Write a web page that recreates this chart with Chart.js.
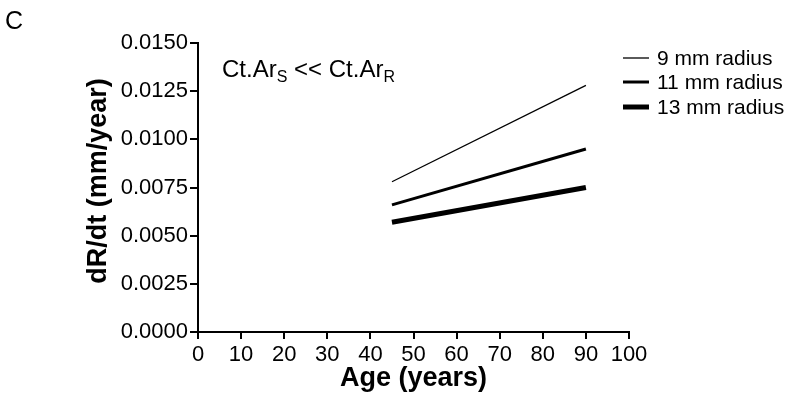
<!DOCTYPE html>
<html lang="en">

<head>
    <meta charset="UTF-8">
    <title>dR/dt vs Age</title>
    <style>
        body {
            margin: 0;
            background-color: #fff;
        }

        #wrap {
            width: 800px;
            height: 400px;
        }
    </style>
</head>

<body>
    <div id="wrap"><canvas id="rateChart"></canvas></div>

    <script src="https://cdn.jsdelivr.net/npm/chart.js"></script>
    <script>
        // values
        const ages = [45, 90];
        const rate9 = [0.0078, 0.0128];
        const rate11 = [0.0066, 0.0095];
        const rate13 = [0.0057, 0.0075];
        const seriesNames = ['9 mm radius', '11 mm radius', '13 mm radius'];
        const lineWidths = [1.3, 3, 5];

        const FONT = "'Liberation Sans', Arial, sans-serif";

        function toPoints(ys) {
            return ages.map((a, i) => ({ x: a, y: ys[i] }));
        }

        // panel letter, y title, annotation and the legend are drawn by hand
        const extras = {
            id: 'extras',
            afterDraw(chart) {
                const ctx = chart.ctx;
                ctx.save();
                ctx.fillStyle = '#000';
                ctx.textBaseline = 'alphabetic';

                ctx.font = '25px ' + FONT;
                ctx.fillText('C', 5, 29);

                // y axis title, sits a bit above the plot centre in the original
                ctx.save();
                ctx.translate(99, 181);
                ctx.rotate(-Math.PI / 2);
                ctx.textAlign = 'center';
                ctx.textBaseline = 'middle';
                ctx.font = 'bold 27px ' + FONT;
                ctx.fillText('dR/dt (mm/year)', 0, 0);
                ctx.restore();

                // Ct.Ar_S << Ct.Ar_R
                let x = 222;
                const base = 77;
                const parts = [['Ct.Ar', 0], ['S', 1], [' << Ct.Ar', 0], ['R', 1]];
                parts.forEach(([t, sub]) => {
                    ctx.font = (sub ? '16px ' : '24px ') + FONT;
                    ctx.fillText(t, x, sub ? base + 5 : base);
                    x += ctx.measureText(t).width;
                });

                // legend
                const rows = [58, 82, 107];
                ctx.font = '21px ' + FONT;
                ctx.textBaseline = 'middle';
                chart.data.datasets.forEach((ds, i) => {
                    ctx.strokeStyle = '#000';
                    ctx.lineWidth = ds.borderWidth;
                    ctx.beginPath();
                    ctx.moveTo(623, rows[i]);
                    ctx.lineTo(649, rows[i]);
                    ctx.stroke();
                    ctx.fillText(ds.label, 657, rows[i] + 1);
                });
                ctx.restore();
            }
        };

        const ctx = document.getElementById('rateChart').getContext('2d');
        new Chart(ctx, {
            type: 'line',
            data: {
                datasets: [rate9, rate11, rate13].map((ys, i) => ({
                    label: seriesNames[i],
                    data: toPoints(ys),
                    borderColor: '#000',
                    borderWidth: lineWidths[i],
                    borderCapStyle: 'butt',
                    pointRadius: 0,
                    fill: false,
                    tension: 0,
                })),
            },
            options: {
                responsive: true,
                maintainAspectRatio: false,
                animation: false,
                layout: {
                    padding: { left: 0, right: 171, top: 43, bottom: 0 },
                },
                plugins: {
                    legend: { display: false },
                    tooltip: { enabled: false },
                },
                scales: {
                    x: {
                        type: 'linear',
                        min: 0,
                        max: 100,
                        ticks: {
                            stepSize: 10,
                            color: '#000',
                            padding: 3,
                            maxRotation: 0,
                            font: { family: FONT, size: 22 },
                        },
                        grid: {
                            drawOnChartArea: false,
                            drawTicks: true,
                            tickLength: 7,
                            color: '#000',
                            lineWidth: 2,
                        },
                        border: { color: '#000', width: 2 },
                        title: {
                            display: true,
                            text: 'Age (years)',
                            color: '#000',
                            padding: { top: 0, bottom: 5 },
                            font: { family: FONT, size: 27, weight: 'bold' },
                        },
                        afterFit(scale) {
                            scale.height = 68;
                        },
                    },
                    y: {
                        min: 0,
                        max: 0.015,
                        ticks: {
                            stepSize: 0.0025,
                            color: '#000',
                            padding: 2,
                            font: { family: FONT, size: 22 },
                            callback: v => v.toFixed(4),
                        },
                        grid: {
                            drawOnChartArea: false,
                            drawTicks: true,
                            tickLength: 8,
                            color: '#000',
                            lineWidth: 2,
                        },
                        border: { color: '#000', width: 2 },
                        afterFit(scale) {
                            scale.width = 198;
                        },
                    },
                },
            },
            plugins: [extras],
        });
    </script>
</body>

</html>
